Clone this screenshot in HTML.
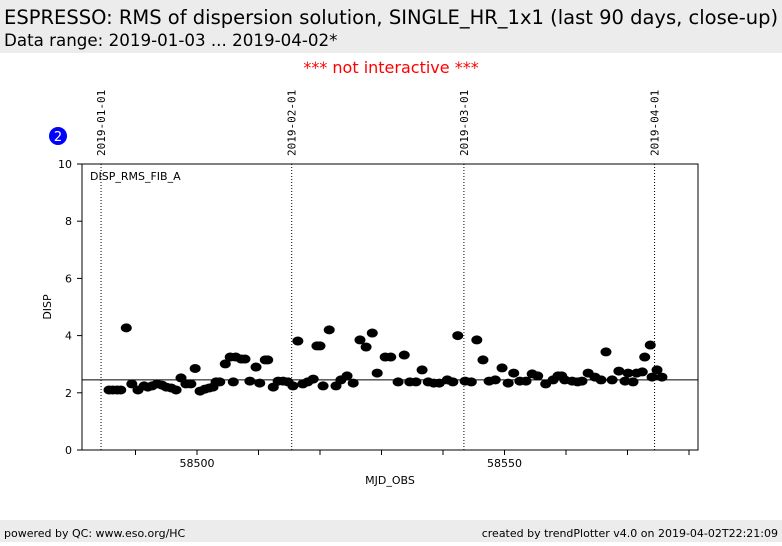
<!DOCTYPE html>
<html><head><meta charset="utf-8">
<style>
body{margin:0;width:782px;height:542px;background:#fff;overflow:hidden;font-family:"DejaVu Sans","Liberation Sans",sans-serif;}
</style></head>
<body>
<svg id="chart" width="782" height="542" xmlns="http://www.w3.org/2000/svg">
<rect x="0" y="0" width="782" height="53" fill="#ececec"/>
<text x="4" y="24" font-size="19.5" fill="#000" font-family="DejaVu Sans, sans-serif">ESPRESSO: RMS of dispersion solution, SINGLE_HR_1x1 (last 90 days, close-up)</text>
<text x="4" y="46" font-size="16.7" fill="#000" font-family="DejaVu Sans, sans-serif">Data range: 2019-01-03 ... 2019-04-02*</text>
<text x="391" y="73" font-size="16" fill="#ff0000" text-anchor="middle" font-family="DejaVu Sans, sans-serif">*** not interactive ***</text>
<circle cx="58" cy="136" r="9" fill="#0000ff"/>
<text x="58" y="141" font-size="13" fill="#fff" text-anchor="middle">2</text>
<rect x="82" y="164" width="616" height="286" fill="none" stroke="#000" stroke-width="1"/>
<text x="90" y="180" font-size="11" fill="#000">DISP_RMS_FIB_A</text>
<text x="51" y="307" font-size="11" fill="#000" text-anchor="middle" transform="rotate(-90 51 307)">DISP</text>
<text x="390" y="484" font-size="11" fill="#000" text-anchor="middle">MJD_OBS</text>
<g id="axes"></g>
<g id="marks"></g>
<rect x="0" y="520" width="782" height="22" fill="#ececec"/>
<text x="4" y="537" font-size="11" fill="#000">powered by QC: www.eso.org/HC</text>
<text x="778" y="537" font-size="11" fill="#000" text-anchor="end">created by trendPlotter v4.0 on 2019-04-02T22:21:09</text>
</svg>
<script>
const mjd = [58485.7,58486.3,58487.0,58487.6,58488.5,58489.4,58490.4,58491.4,58492.0,58492.7,58493.5,58494.3,58495.0,58495.8,58496.6,58497.4,58498.2,58499.0,58499.7,58500.5,58501.3,58502.0,58502.6,58503.1,58503.7,58504.6,58505.4,58505.9,58506.3,58507.2,58507.8,58508.6,58509.6,58510.2,58511.1,58511.5,58512.4,58513.2,58514.0,58514.8,58515.6,58516.4,58517.2,58518.0,58518.9,58519.5,58520.0,58520.5,58521.5,58522.6,58523.4,58524.4,58525.4,58526.5,58527.5,58528.5,58529.3,58530.6,58531.5,58532.7,58533.7,58534.6,58535.6,58536.6,58537.6,58538.5,58539.4,58540.7,58541.6,58542.4,58543.6,58544.6,58545.5,58546.5,58547.5,58548.5,58549.6,58550.6,58551.5,58552.5,58553.5,58554.5,58555.4,58556.7,58557.9,58558.7,58559.3,58559.8,58561.0,58561.9,58562.6,58563.6,58564.7,58565.7,58566.5,58567.5,58568.6,58569.6,58570.1,58570.9,58571.5,58572.4,58572.8,58573.7,58574.0,58574.8,58575.6];
const disp = [2.10,2.10,2.10,2.10,4.27,2.31,2.10,2.24,2.20,2.24,2.31,2.27,2.20,2.17,2.10,2.52,2.31,2.31,2.85,2.06,2.13,2.17,2.20,2.38,2.38,3.01,3.25,2.38,3.25,3.18,3.18,2.41,2.90,2.34,3.15,3.15,2.20,2.41,2.41,2.38,2.24,3.81,2.31,2.38,2.48,3.64,3.64,2.24,4.20,2.24,2.45,2.59,2.34,3.85,3.60,4.09,2.69,3.25,3.25,2.38,3.32,2.38,2.38,2.80,2.38,2.34,2.34,2.45,2.38,4.00,2.41,2.38,3.85,3.15,2.41,2.45,2.87,2.34,2.69,2.41,2.41,2.66,2.59,2.31,2.45,2.59,2.59,2.45,2.41,2.38,2.41,2.69,2.55,2.45,3.43,2.45,2.76,2.41,2.69,2.38,2.69,2.73,3.25,3.67,2.55,2.80,2.55];
const yTicks = [0,2,4,6,8,10];
const xMajor = [58500,58550];
const xMinor = [58490,58500,58510,58520,58530,58540,58550,58560,58570,58580];
const dateLabels = ["2019-01-01","2019-02-01","2019-03-01","2019-04-01"];
const dateMjd = [58484.4,58515.4,58543.4,58574.4];
const refLevel = 2.45;

const NS = "http://www.w3.org/2000/svg";
const X = m => 197 + (m - 58500) * 6.15;
const Y = v => 450 - v * 28.6;
const axes = document.getElementById('axes');
const marks = document.getElementById('marks');
function mk(tag, attrs, parent){const e=document.createElementNS(NS,tag);for(const k in attrs)e.setAttribute(k,attrs[k]);parent.appendChild(e);return e;}

yTicks.forEach(v=>{
  const t = mk('line',{x1:77,x2:82,y1:Y(v),y2:Y(v),stroke:'#000'},axes);
  
  
  const l = mk('text',{x:72,y:Y(v)+4,'font-size':11,'text-anchor':'end'},axes);
  
  
  l.textContent = v;
});
xMinor.forEach(m=>{
  const t = mk('line',{x1:X(m),x2:X(m),y1:450,y2:455,stroke:'#000'},axes);
  
  
});
xMajor.forEach(m=>{
  const l = mk('text',{x:X(m),y:467,'font-size':11,'text-anchor':'middle'},axes);
  
  
  l.textContent = m;
});
dateMjd.forEach((m,i)=>{
  const ln = mk('line',{x1:X(m),x2:X(m),y1:164,y2:450,stroke:'#000','stroke-dasharray':'1,2'},axes);
  
  
  const tx = X(m)+4, ty = 156;
  const l = mk('text',{x:tx,y:ty,'font-size':11,'font-family':'DejaVu Sans Mono, Liberation Mono, monospace',transform:`rotate(-90 ${tx} ${ty})`},axes);
  
  
  l.textContent = dateLabels[i];
});
const ref = mk('line',{x1:82,x2:698,y1:Y(refLevel),y2:Y(refLevel),stroke:'#000','stroke-width':1},axes);


mjd.forEach((m,i)=>{
  const p = mk('ellipse',{cx:X(m),cy:Y(disp[i]),rx:5.5,ry:4.5,fill:'#000'},marks);
  
  
});
</script>
</body></html>
